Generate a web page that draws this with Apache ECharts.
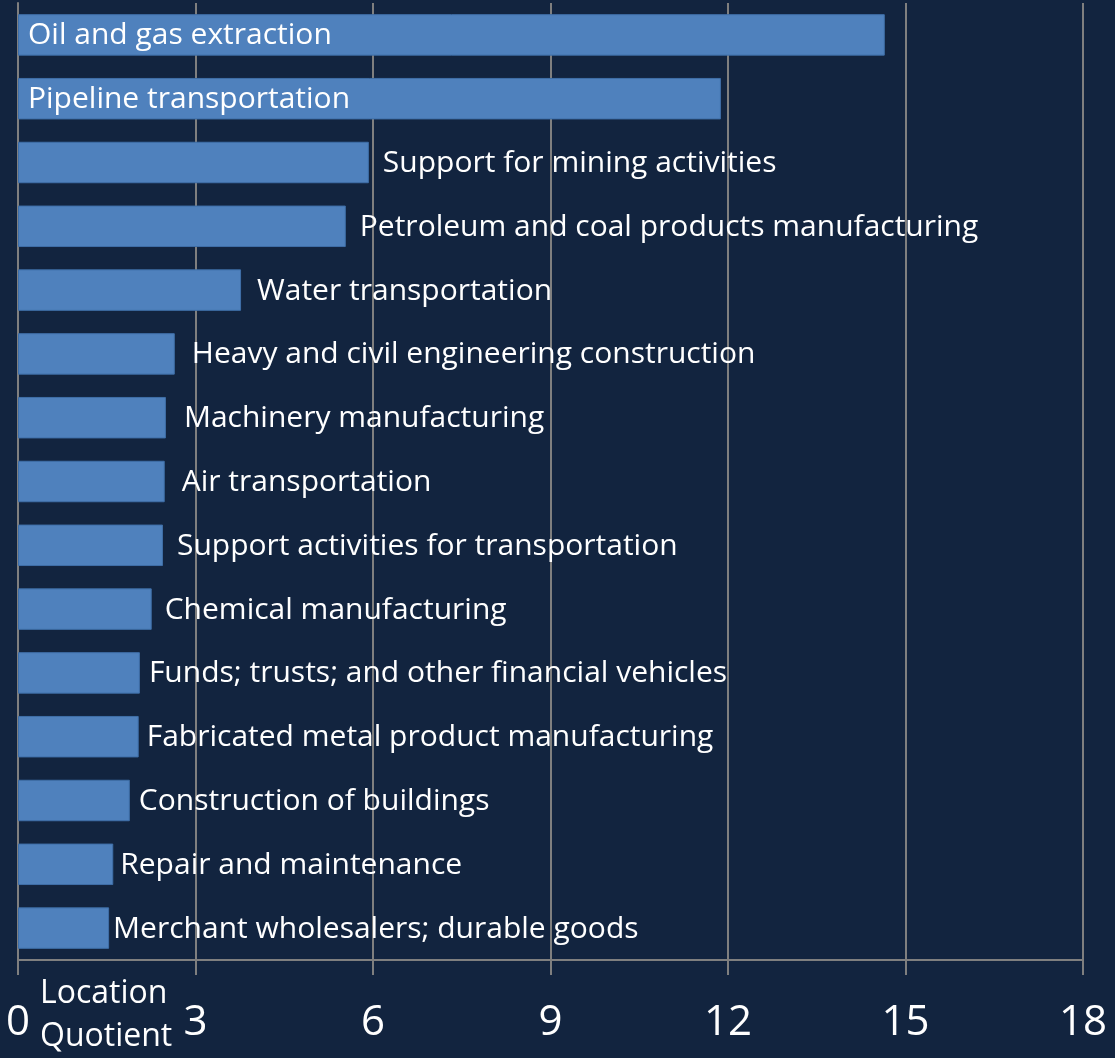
<!DOCTYPE html>
<html>
<head>
<meta charset="utf-8">
<script src="https://cdn.jsdelivr.net/npm/echarts@6/dist/echarts.min.js"></script>
<style>
  html, body { margin: 0; padding: 0; background: #12243f; }
  #chart { width: 1115px; height: 1058px; }
</style>
</head>
<body>
<div id="chart"></div>
<script>
// 산업별 입지계수
var industries = [
    'Oil and gas extraction',
    'Pipeline transportation',
    'Support for mining activities',
    'Petroleum and coal products manufacturing',
    'Water transportation',
    'Heavy and civil engineering construction',
    'Machinery manufacturing',
    'Air transportation',
    'Support activities for transportation',
    'Chemical manufacturing',
    'Funds; trusts; and other financial vehicles',
    'Fabricated metal product manufacturing',
    'Construction of buildings',
    'Repair and maintenance',
    'Merchant wholesalers; durable goods'
];
var quotients = [14.65, 11.88, 5.93, 5.54, 3.77, 2.65, 2.50, 2.48, 2.45, 2.26, 2.06, 2.04, 1.89, 1.61, 1.54];
var xTicks = [0, 3, 6, 9, 12, 15, 18];
var insideCount = 2;  // 앞의 두 막대는 라벨을 안쪽에

var FONT = 'Open Sans';
// 라벨 간격 (원본처럼 조금씩 다름)
var labelGap = [10, 10, 14, 14, 16, 17, 18, 17, 14, 13, 9, 8, 9, 7, 4];

var myChart = echarts.init(document.getElementById('chart'));

var barData = quotients.map(function(v, i) {
    var item = { value: v, label: { distance: labelGap[i] } };
    if (i < insideCount) {
        item.label.position = 'insideLeft';
    }
    return item;
});

option = {
    backgroundColor: '#12243f',
    animation: false,
    grid: {
        top: 3,
        left: 18,
        right: 32,
        bottom: 98,
        containLabel: false
    },
    xAxis: {
        type: 'value',
        min: xTicks[0],
        max: xTicks[xTicks.length - 1],
        interval: 3,
        axisLine: { show: true, lineStyle: { color: '#7f7f7f', width: 2 } },
        axisTick: { show: true, length: 15, lineStyle: { color: '#7f7f7f', width: 2 } },
        splitLine: { show: true, lineStyle: { color: '#7f7f7f', width: 2 } },
        axisLabel: {
            color: '#ffffff',
            fontFamily: FONT,
            fontSize: 42,
            margin: 42
        }
    },
    yAxis: {
        type: 'category',
        inverse: true,
        data: industries,
        axisLine: { show: true, lineStyle: { color: '#7f7f7f', width: 2 } },
        axisTick: { show: false },
        axisLabel: { show: false }
    },
    series: [{
        type: 'bar',
        data: barData,
        barCategoryGap: '35%',
        itemStyle: {
            color: '#4f81bd',
            borderColor: '#3f6fa8',
            borderWidth: 1
        },
        label: {
            show: true,
            position: 'right',
            color: '#ffffff',
            fontFamily: FONT,
            fontSize: 30,
            offset: [0, 1],
            formatter: function(p) { return p.name; }
        }
    }],
    graphic: [{
        type: 'text',
        left: 40,
        top: 972,
        style: {
            text: 'Location\nQuotient',
            fill: '#ffffff',
            font: '32px "Open Sans"',
            lineHeight: 43
        }
    }]
};

myChart.setOption(option);

window.addEventListener('resize', function() {
    myChart.resize()
})
</script>
</body>
</html>
